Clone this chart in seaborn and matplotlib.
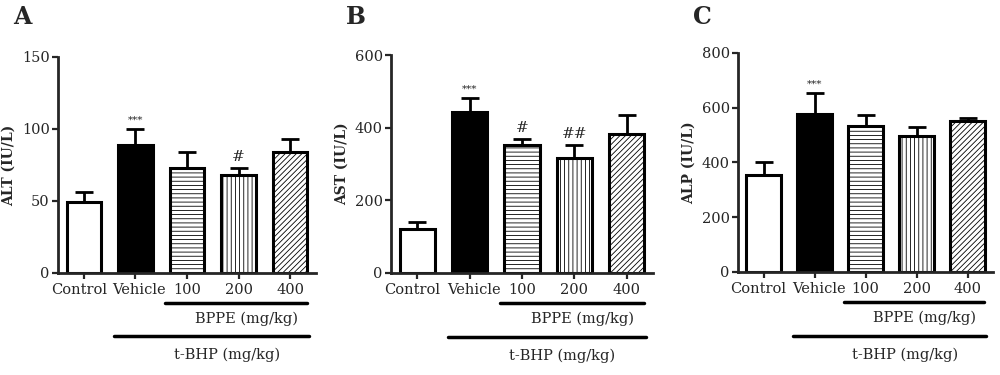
import numpy as np
import pandas as pd
import matplotlib
matplotlib.use("Agg")
import matplotlib.pyplot as plt
import matplotlib.transforms as mtransforms
import seaborn as sns

groups = ["Control", "Vehicle", "100", "200", "400"]

alt_mean = [49, 89, 73, 68, 84]
alt_err = [7, 11, 11, 5, 9]
alt_marks = ["", "***", "", "#", ""]

ast_mean = [122, 443, 352, 318, 382]
ast_err = [19, 40, 17, 34, 52]
ast_marks = ["", "***", "#", "##", ""]

alp_mean = [355, 578, 532, 498, 550]
alp_err = [47, 75, 40, 33, 13]
alp_marks = ["", "***", "", "", ""]

sns.set_style("ticks")
plt.rcParams["font.family"] = ["DejaVu Serif"]
plt.rcParams["hatch.linewidth"] = 0.6

fills = ["white", "black", "white", "white", "white"]
hatches = [None, None, "----", "||||", "//////"]
# small sideways nudges of the two long tick labels, in pixels
label_shift = [-5, 4, 0, 0, 0]

panels = [
    ("A", "ALT (IU/L)", alt_mean, alt_err, alt_marks, 150, 50, [0.058, 0.272, 0.258, 0.576]),
    ("B", "AST (IU/L)", ast_mean, ast_err, ast_marks, 600, 200, [0.391, 0.272, 0.262, 0.581]),
    ("C", "ALP (IU/L)", alp_mean, alp_err, alp_marks, 800, 200, [0.738, 0.275, 0.255, 0.584]),
]

fig = plt.figure(figsize=(10, 3.75), dpi=100)

for letter, ylab, means, errs, marks, ymax, step, rect in panels:
    ax = fig.add_axes(rect)
    df = pd.DataFrame({"group": groups, "value": means})
    sns.barplot(data=df, x="group", y="value", hue="group", palette=fills,
                legend=False, width=0.67, edgecolor="black", linewidth=2.2,
                ax=ax, errorbar=None)
    for patch, h in zip(ax.patches, hatches):
        if h:
            patch.set_hatch(h)
    x = np.arange(len(groups))
    ax.errorbar(x, means, yerr=[np.zeros(len(errs)), errs], fmt="none",
                ecolor="black", elinewidth=2, capsize=6.5, capthick=2, zorder=1)
    for xi, m, e, mk in zip(x, means, errs, marks):
        if mk:
            size = 7.5 if mk == "***" else 11
            ax.annotate(mk, (xi, m + e), xytext=(0, 3), textcoords="offset points",
                        ha="center", va="bottom", fontsize=size)

    ax.set_xlim(-0.5, 4.5)
    ax.set_ylim(0, ymax)
    ax.set_yticks(np.arange(0, ymax + 1, step))
    ax.set_xlabel("")
    ax.set_ylabel(ylab, fontsize=10, fontweight="bold", labelpad=4)
    sns.despine(ax=ax)
    for s in ["left", "bottom"]:
        ax.spines[s].set_linewidth(2)
    ax.tick_params(axis="both", width=1.6, length=4, labelsize=10.5, pad=2)
    ax.tick_params(axis="x", pad=3)
    for lab, dx in zip(ax.get_xticklabels(), label_shift):
        off = mtransforms.ScaledTranslation(dx / 100, 0, fig.dpi_scale_trans)
        lab.set_transform(lab.get_transform() + off)

    tr = ax.get_xaxis_transform()
    ax.plot([1.58, 4.33], [-0.139, -0.139], color="black", lw=2.5,
            transform=tr, clip_on=False)
    ax.text(3.15, -0.21, "BPPE (mg/kg)", transform=tr, ha="center", va="center",
            fontsize=10.5)
    ax.plot([0.58, 4.37], [-0.292, -0.292], color="black", lw=2.5,
            transform=tr, clip_on=False)
    ax.text(2.77, -0.38, "t-BHP (mg/kg)", transform=tr, ha="center", va="center",
            fontsize=10.5)

    fig.text(rect[0] - 0.045, 0.955, letter, fontsize=17, fontweight="bold",
             ha="left", va="center")

fig.savefig("out.png", dpi=100)
